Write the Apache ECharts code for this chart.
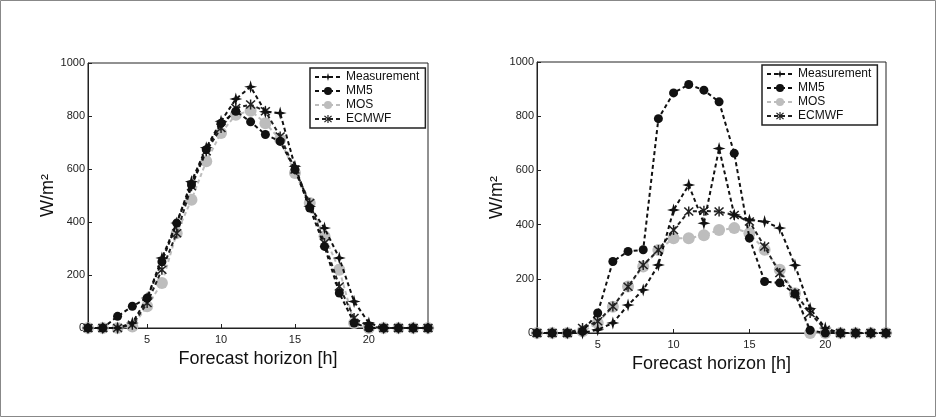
<!DOCTYPE html>
<html><head><meta charset="utf-8">
<script src="https://cdn.jsdelivr.net/npm/echarts@6/dist/echarts.min.js"></script>
<style>html,body{margin:0;padding:0;background:#fff}#c{width:937px;height:418px}</style>
</head><body><div id="c"></div>
<script>
const hours = [1,2,3,4,5,6,7,8,9,10,11,12,13,14,15,16,17,18,19,20,21,22,23,24];
const xTicks = [5,10,15,20];
const seriesNames = ['Measurement','MM5','MOS','ECMWF'];
// Left panel
const measL = [0,0,0,19,113,264,396,553,680,780,864,910,816,811,610,459,377,264,100,19,0,0,0,0];
const mm5L  = [0,0,44,82,113,250,396,540,673,773,818,778,730,704,598,453,308,132,19,0,0,0,0,0];
const mosL  = [0,0,0,6,82,170,358,484,629,736,805,820,773,711,585,472,346,220,19,0,0,0,0,0];
const ecmL  = [0,0,0,12,94,220,358,535,667,755,830,843,818,723,598,472,321,157,38,6,0,0,0,0];
// Right panel
const measR = [0,0,0,0,12,37,103,159,251,454,546,405,681,436,417,411,387,250,90,18,0,0,0,0];
const mm5R  = [0,0,0,6,74,264,301,307,791,886,917,896,853,663,350,190,185,145,10,0,0,0,0,0];
const mosR  = [0,0,0,6,37,97,172,245,306,350,350,361,380,387,368,307,233,147,0,0,0,0,0,0];
const ecmR  = [0,0,0,18,43,98,171,251,306,380,448,451,448,435,411,319,221,147,74,12,0,0,0,0];

const starPath = 'path://M0,-10 L2.2,-2.2 L10,0 L2.2,2.2 L0,10 L-2.2,2.2 L-10,0 L-2.2,-2.2 Z';
const astPath = 'path://M-9,-7 L-7,-9 L0,-2 L7,-9 L9,-7 L2,0 L9,7 L7,9 L0,2 L-7,9 L-9,7 L-2,0 Z M-1.3,-10 L1.3,-10 L1.3,10 L-1.3,10 Z';

function pairs(arr){ return hours.map((h,i)=>[h,arr[i]]); }
function mk(name, arr, idx){
  const st = {
    'Measurement': {symbol: starPath, symbolSize: 13, color:'#111', z:4},
    'MM5': {symbol:'circle', symbolSize: 9, color:'#111', z:3},
    'MOS': {symbol:'circle', symbolSize: 12, color:'#bdbdbd', z:1},
    'ECMWF': {symbol: astPath, symbolSize: 10, color:'#222', z:2}
  }[name];
  return {
    name, type:'line', xAxisIndex: idx, yAxisIndex: idx, data: pairs(arr),
    symbol: st.symbol, symbolSize: st.symbolSize, z: st.z,
    itemStyle: {color: st.color},
    lineStyle: {color: st.color, width: 2, type: [4,3]},
    animation: false
  };
}
const font = 'Liberation Sans, Arial, sans-serif';
function xa(idx, gap){
  return {
    type:'value', gridIndex: idx, min:1, max:24,
    name:'Forecast horizon [h]', nameLocation:'middle', nameGap: gap,
    nameTextStyle:{fontSize:18, color:'#111', fontFamily:font},
    axisLine:{show:true, lineStyle:{color:'#222'}},
    axisTick:{show:true, inside:true, length:4, customValues: xTicks, lineStyle:{color:'#222'}},
    axisLabel:{fontSize:11, color:'#222', margin:6, fontFamily:font, customValues: xTicks},
    splitLine:{show:false}
  };
}
function ya(idx, gap){
  return {
    type:'value', gridIndex: idx, min:0, max:1000, interval:200,
    name:'W/m²', nameLocation:'middle', nameGap: gap,
    nameTextStyle:{fontSize:18, color:'#111', fontFamily:font},
    axisLine:{show:true, lineStyle:{color:'#222'}},
    axisTick:{show:true, inside:true, length:4, lineStyle:{color:'#222'}},
    axisLabel:{fontSize:11, color:'#222', margin:3, fontFamily:font, formatter: v => String(v)},
    splitLine:{show:false}
  };
}
function lg(left, top){
  return {
    data: seriesNames, orient:'vertical', left, top,
    borderColor:'#222', borderWidth:1.5, padding:[3,6,3,4], itemGap:2,
    itemWidth:26, itemHeight:10,
    textStyle:{fontSize:12, color:'#111', fontFamily:font}
  };
}
const chart = echarts.init(document.getElementById('c'), null, {renderer:'canvas'});
chart.setOption({
  backgroundColor:'#fff',
  animation:false,
  graphic:[{type:'rect', shape:{x:0.5,y:0.5,width:935,height:416}, style:{fill:'none', stroke:'#888', lineWidth:1}, silent:true}],
  grid:[
    {left:88, right:509, top:63, bottom:90, show:true, borderColor:'#222', borderWidth:1, backgroundColor:'transparent'},
    {left:537, right:51, top:62, bottom:85, show:true, borderColor:'#222', borderWidth:1, backgroundColor:'transparent'}
  ],
  xAxis:[xa(0, 19), xa(1, 20)],
  yAxis:[ya(0, 29), ya(1, 30)],
  legend:[lg(310,68), lg(762,65)],
  series:[
    mk('MOS', mosL, 0), mk('ECMWF', ecmL, 0), mk('MM5', mm5L, 0), mk('Measurement', measL, 0),
    mk('MOS', mosR, 1), mk('ECMWF', ecmR, 1), mk('MM5', mm5R, 1), mk('Measurement', measR, 1)
  ]
});
</script></body></html>
